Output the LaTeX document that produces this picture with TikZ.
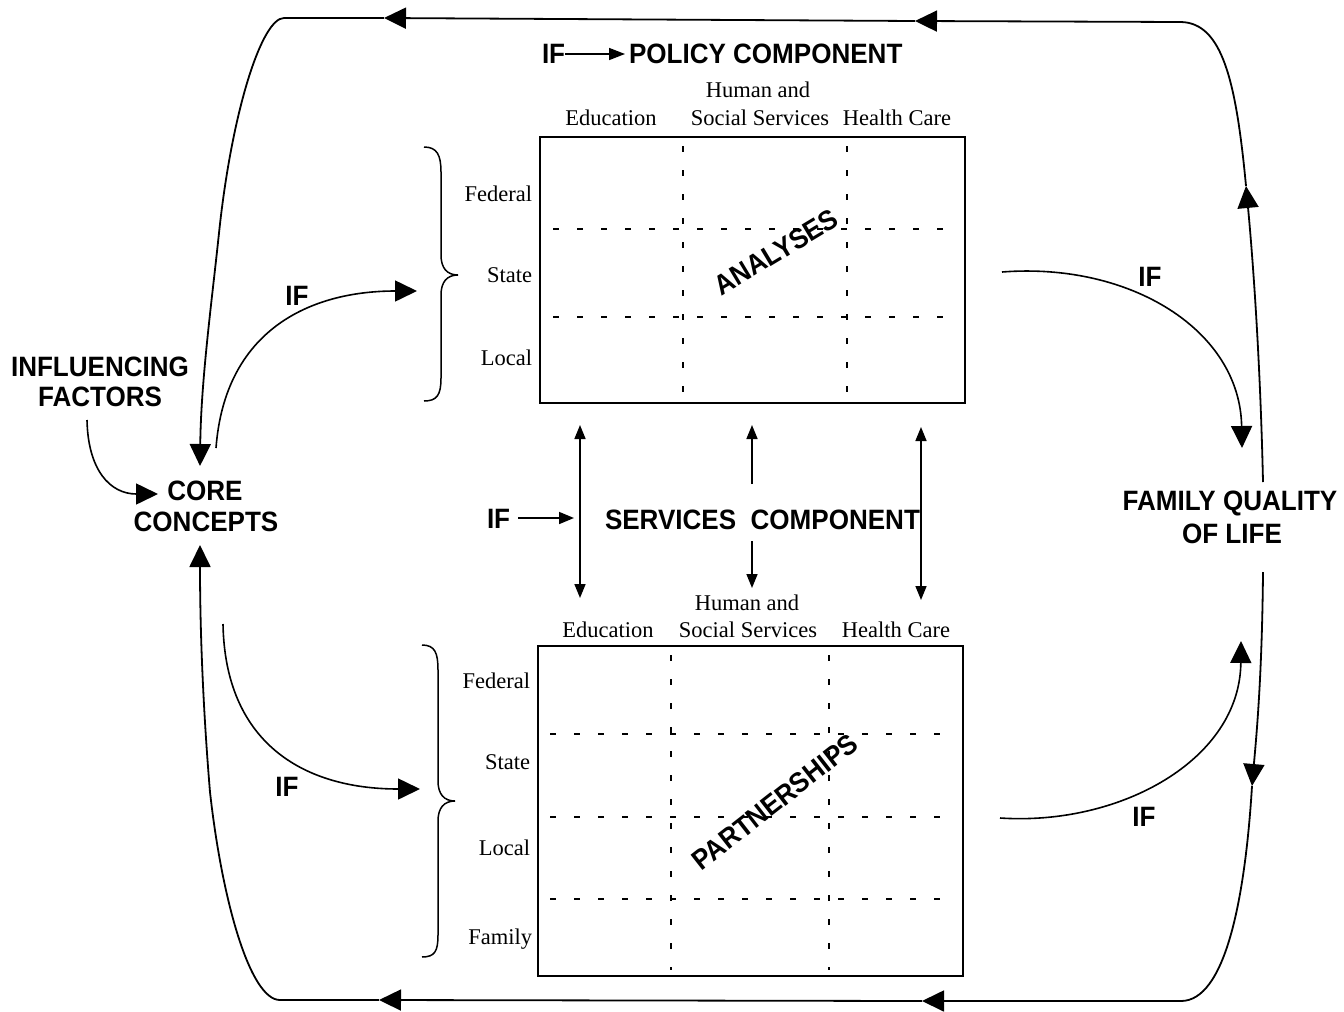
\documentclass[tikz,border=0pt]{standalone}
\usepackage{fontspec}
\setmainfont{Liberation Serif}
\newfontfamily\headfont{Liberation Sans}[FakeStretch=0.93]
\usetikzlibrary{arrows.meta}
\tikzset{
  every node/.style={inner sep=0pt, outer sep=0pt},
  seril/.style={font=\fontsize{22.5}{24}\selectfont},
  boldl/.style={font=\headfont\bfseries\fontsize{28}{30}\selectfont},
  loopline/.style={line width=1.8pt},
  curveline/.style={line width=1.6pt},
  bigtip/.style={-{Triangle[length=22pt,width=21pt]}},
  smalltip/.style={line width=1.6pt,-{Triangle[length=14pt,width=11pt]}},
  dbltip/.style={line width=1.6pt,{Triangle[length=14pt,width=11pt]}-{Triangle[length=14pt,width=11pt]}},
  boxst/.style={draw, line width=2pt},
  gridd/.style={line width=1.8pt, dash pattern=on 6pt off 18pt},
  bracest/.style={line width=1.5pt}
}
\begin{document}
\begin{tikzpicture}[x=1pt,y=-1pt]
\useasboundingbox (0,0) rectangle (1344,1012);
\fill[white] (0,0) rectangle (1344,1012);

% ---------- boxes ----------
\node[boxst, minimum width=425pt, minimum height=266pt] (polbox) at (752.5,270) {};
\node[boxst, minimum width=425pt, minimum height=330pt] (serbox) at (750.5,811) {};

\draw[gridd] (553,229) -- (955,229);
\draw[gridd] (553,317) -- (955,317);
\draw[gridd] (683,146) -- (683,398);
\draw[gridd] (847,146) -- (847,398);

\draw[gridd] (550,734) -- (955,734);
\draw[gridd] (550,817) -- (955,817);
\draw[gridd] (550,899) -- (955,899);
\draw[gridd] (671,655) -- (671,970);
\draw[gridd] (829,655) -- (829,970);

% ---------- column and row labels ----------
\node[seril, anchor=base] (te) at (611,125) {Education};
\node[seril, anchor=base] (th) at (758,97) {Human and};
\node[seril, anchor=base] (ts) at (760,125) {Social Services};
\node[seril, anchor=base] (tc) at (897,125) {Health Care};
\node[seril, anchor=base east] (tf) at (532,201) {Federal};
\node[seril, anchor=base east] (tst) at (532,282) {State};
\node[seril, anchor=base east] (tl) at (532,365) {Local};

\node[seril, anchor=base] (be) at (608,637) {Education};
\node[seril, anchor=base] (bh) at (747,610) {Human and};
\node[seril, anchor=base] (bs) at (748,637) {Social Services};
\node[seril, anchor=base] (bc) at (896,637) {Health Care};
\node[seril, anchor=base east] (bf) at (530,688) {Federal};
\node[seril, anchor=base east] (bst) at (530,769) {State};
\node[seril, anchor=base east] (bl) at (530,855) {Local};
\node[seril, anchor=base east] (bfa) at (532,944) {Family};

% ---------- diagonal labels ----------
\node[boldl, rotate=31] (ana) at (776,252) {ANALYSES};
\node[boldl, rotate=38] (par) at (775,802) {PARTNERSHIPS};

% ---------- bold labels ----------
\node[boldl, anchor=base] (inf1) at (100,376) {INFLUENCING};
\node[boldl, anchor=base] (inf2) at (100,406) {FACTORS};
\node[boldl, anchor=base] (core1) at (205,500) {CORE};
\node[boldl, anchor=base] (core2) at (206,531) {CONCEPTS};
\node[boldl, anchor=base west] (ifp) at (542,63) {IF};
\node[boldl, anchor=base west] (polc) at (629,63) {POLICY COMPONENT};
\node[boldl, anchor=base west] (ifs) at (487,528) {IF};
\node[boldl, anchor=base west] (serc) at (605,529) {SERVICES\ \ COMPONENT};
\node[boldl, anchor=base] (fq1) at (1230,510) {FAMILY QUALITY};
\node[boldl, anchor=base] (fq2) at (1232,543) {OF LIFE};
\node[boldl, anchor=base] (if1) at (297,305) {IF};
\node[boldl, anchor=base] (if2) at (287,796) {IF};
\node[boldl, anchor=base] (if3) at (1150,286) {IF};
\node[boldl, anchor=base] (if4) at (1144,826) {IF};

% ---------- braces ----------
\draw[bracest] (424,147) .. controls (437,147) and (441,155) .. (441,172) -- (441,255)
  .. controls (441,268) and (447,275) .. (458,275)
  .. controls (447,275) and (441,282) .. (441,295) -- (441,378)
  .. controls (441,395) and (437,401) .. (424,401);
\draw[bracest] (422,645) .. controls (435,645) and (438,653) .. (438,670) -- (438,781)
  .. controls (438,794) and (444,801) .. (455,801)
  .. controls (444,801) and (438,808) .. (438,821) -- (438,935)
  .. controls (438,951) and (435,957) .. (422,957);

% ---------- small arrows ----------
\coordinate (pa1) at (565,54);
\coordinate (pa2) at (625,54);
\draw[line width=1.6pt,-{Triangle[length=16pt,width=12pt]}] (pa1) -- (pa2);
\coordinate (sa1) at (518,518);
\coordinate (sa2) at (574,518);
\draw[line width=1.6pt,-{Triangle[length=15pt,width=12pt]}] (sa1) -- (sa2);

\coordinate (m1t) at (580,425);
\coordinate (m1b) at (580,598);
\draw[dbltip] (m1t) -- (m1b);
\coordinate (m2a) at (752,484);
\coordinate (m2b) at (752,425);
\draw[smalltip] (m2a) -- (m2b);
\coordinate (m3a) at (752,541);
\coordinate (m3b) at (752,588);
\draw[smalltip] (m3a) -- (m3b);
\coordinate (m4t) at (921,427);
\coordinate (m4b) at (921,600);
\draw[dbltip] (m4t) -- (m4b);

% ---------- IF curves ----------
\coordinate (i1s) at (216,448);
\coordinate (i1e) at (417,291);
\draw[curveline,bigtip] (i1s) .. controls (225,330) and (310,291) .. (i1e);
\coordinate (i2s) at (223,624);
\coordinate (i2e) at (420,789);
\draw[curveline,bigtip] (i2s) .. controls (225,740) and (300,789) .. (i2e);
\coordinate (i3s) at (1002,272);
\coordinate (i3e) at (1242,448);
\draw[curveline,bigtip] (i3s) .. controls (1130,262) and (1240,330) .. (i3e);
\coordinate (i4s) at (1000,818);
\coordinate (i4e) at (1241,641);
\draw[curveline,bigtip] (i4s) .. controls (1120,826) and (1240,760) .. (i4e);
\coordinate (infs) at (87,420);
\coordinate (infe) at (158,494);
\draw[curveline,bigtip] (infs) .. controls (88,470) and (110,494) .. (infe);

% ---------- top loop ----------
\coordinate (fqT) at (1263,482);
\coordinate (a1) at (1246,186);
\coordinate (c1) at (1181,22);
\coordinate (a2) at (915,21);
\coordinate (a3) at (384,18);
\coordinate (c2) at (284,18);
\coordinate (ccT) at (200,466);
\draw[loopline,bigtip] (fqT) .. controls (1260,350) and (1252,250) .. (a1);
\draw[loopline] (a1) .. controls (1236,80) and (1222,23) .. (c1);
\draw[loopline,bigtip] (c1) -- (a2);
\draw[loopline,bigtip] (a2) -- (a3);
\draw[loopline] (a3) -- (c2);
\draw[loopline,bigtip] (c2) .. controls (262,18) and (232,110) .. (219,233)
  .. controls (212,300) and (201,380) .. (ccT);

% ---------- bottom loop ----------
\coordinate (fqB) at (1263,572);
\coordinate (b1) at (1252,786);
\coordinate (c3) at (1181,1001);
\coordinate (b2) at (922,1001);
\coordinate (b3) at (379,1000);
\coordinate (c4) at (280,1000);
\coordinate (ccB) at (200,545);
\draw[loopline,bigtip] (fqB) .. controls (1262,680) and (1256,740) .. (b1);
\draw[loopline] (b1) .. controls (1245,900) and (1225,1001) .. (c3);
\draw[loopline,bigtip] (c3) -- (b2);
\draw[loopline,bigtip] (b2) -- (b3);
\draw[loopline] (b3) -- (c4);
\draw[loopline,bigtip] (c4) .. controls (250,1000) and (222,900) .. (210,792)
  .. controls (204,720) and (200,640) .. (ccB);
\end{tikzpicture}
\end{document}
